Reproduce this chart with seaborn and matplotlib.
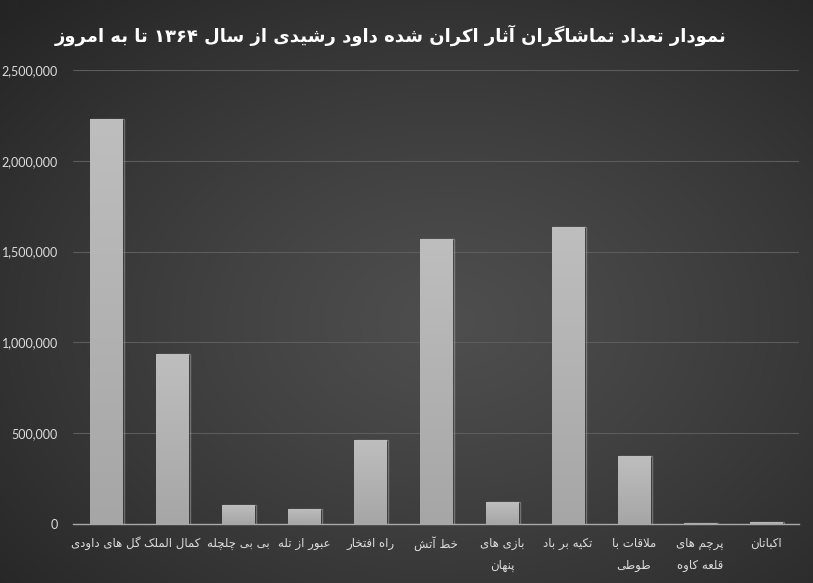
import re
import numpy as np
import matplotlib
matplotlib.use("Agg")
import matplotlib.pyplot as plt
import seaborn as sns
import pandas as pd

# ---------------- data ----------------
categories = ["گل های داودی", "کمال الملک", "بی بی چلچله", "عبور از تله", "راه افتخار",
              "خط آتش", "بازی های\nپنهان", "تکیه بر باد", "ملاقات با\nطوطی",
              "پرچم های\nقلعه کاوه", "اکباتان"]
viewers = [2230000, 936000, 105000, 83000, 463000, 1570000, 121000, 1635000, 374000, 7000, 11000]
y_ticks = [0, 500000, 1000000, 1500000, 2000000, 2500000]
title = "نمودار تعداد تماشاگران آثار اکران شده داود رشیدی از سال ۱۳۶۴ تا به امروز"

# ---------------- simple Arabic/Persian shaping ----------------
_dual = {'ئ': 0xFE89, 'ب': 0xFE8F, 'ت': 0xFE95, 'ث': 0xFE99, 'ج': 0xFE9D, 'ح': 0xFEA1,
         'خ': 0xFEA5, 'س': 0xFEB1, 'ش': 0xFEB5, 'ص': 0xFEB9, 'ض': 0xFEBD, 'ط': 0xFEC1,
         'ظ': 0xFEC5, 'ع': 0xFEC9, 'غ': 0xFECD, 'ف': 0xFED1, 'ق': 0xFED5, 'ك': 0xFED9,
         'ل': 0xFEDD, 'م': 0xFEE1, 'ن': 0xFEE5, 'ه': 0xFEE9, 'ي': 0xFEF1, 'پ': 0xFB56,
         'چ': 0xFB7A, 'ک': 0xFB8E, 'گ': 0xFB92, 'ی': 0xFBFC}
_right = {'آ': 0xFE81, 'أ': 0xFE83, 'ؤ': 0xFE85, 'إ': 0xFE87, 'ا': 0xFE8D, 'ة': 0xFE93,
          'د': 0xFEA9, 'ذ': 0xFEAB, 'ر': 0xFEAD, 'ز': 0xFEAF, 'و': 0xFEED, 'ى': 0xFEEF,
          'ژ': 0xFB8A}


def shape(s):
    res = []
    n = len(s)
    i = 0
    while i < n:
        c = s[i]
        cp = i > 0 and s[i - 1] in _dual
        if c == 'ل' and i + 1 < n and s[i + 1] in ('ا', 'آ'):
            base = 0xFEFB if s[i + 1] == 'ا' else 0xFEF5
            res.append(chr(base + (1 if cp else 0)))
            i += 2
            continue
        if c in _dual or c in _right:
            nxt = s[i + 1] if i + 1 < n else None
            cn = c in _dual and nxt is not None and (nxt in _dual or nxt in _right)
            if c in _dual:
                form = (3 if cn else 1) if cp else (2 if cn else 0)
                res.append(chr(_dual[c] + form))
            else:
                res.append(chr(_right[c] + (1 if cp else 0)))
        else:
            res.append(c)
        i += 1
    return ''.join(res)


def rtl(s):
    lines = []
    for line in s.split('\n'):
        r = shape(line)[::-1]
        r = re.sub(r'[0-9\u06F0-\u06F9\u0660-\u0669]+', lambda m: m.group(0)[::-1], r)
        lines.append(r)
    return '\n'.join(lines)


# ---------------- figure ----------------
sns.set_theme(style="dark")
plt.rcParams['font.family'] = ['DejaVu Sans']

W, H = 813, 583
fig = plt.figure(figsize=(W / 100, H / 100), dpi=100)

# radial gradient background
bg = fig.add_axes([0, 0, 1, 1], zorder=-5)
yy, xx = np.mgrid[0:H, 0:W]
cx, cy = 0.55 * W, 0.55 * H
d = np.sqrt(((xx - cx) / (0.75 * W)) ** 2 + ((yy - cy) / (0.75 * H)) ** 2)
d = np.clip(d, 0, 1)
c0, c1 = 0x4e / 255, 0x25 / 255
val = c0 + (c1 - c0) * d ** 1.2
bg.imshow(np.dstack([val, val, val]), extent=[0, 1, 0, 1], aspect='auto', origin='upper')
bg.set_axis_off()

ax = fig.add_axes([73 / W, (H - 524) / H, (799 - 73) / W, (524 - 70) / H])
ax.set_facecolor('none')

df = pd.DataFrame({"film": [rtl(c) for c in categories], "viewers": viewers})
sns.barplot(data=df, x="film", y="viewers", ax=ax, color="#b0b0b0", width=0.5,
            saturation=1, zorder=3, edgecolor='none')

# vertical gradient on each bar
grad = np.linspace(0, 1, 256).reshape(-1, 1)
top_c, bot_c = np.array([0xbe, 0xbe, 0xbe]) / 255, np.array([0xa6, 0xa6, 0xa6]) / 255
img = top_c + (bot_c - top_c) * grad[..., None]
img = np.repeat(img, 2, axis=1)
for p in list(ax.patches):
    x0, y0 = p.get_x(), p.get_y()
    w, h = p.get_width(), p.get_height()
    if h <= 0:
        continue
    ax.bar(x0 + w / 2 + 0.03, h, width=w, bottom=0, color='#1e1e1e', alpha=0.3, zorder=2)
    im = ax.imshow(img, extent=[x0, x0 + w, y0, y0 + h], aspect='auto', origin='upper', zorder=4)
    im.set_clip_path(p)

ax.set_xlim(-0.5, len(categories) - 0.5)
ax.set_ylim(0, 2500000)
ax.set_yticks(y_ticks)
ax.set_yticklabels([f"{v:,}" for v in y_ticks], fontfamily='Lato', fontsize=9, color='#dcdcdc')
ax.yaxis.grid(True, color='#5c5c5c', linewidth=0.8, zorder=0)
ax.xaxis.grid(False)
ax.tick_params(axis='y', length=0, pad=11)
ax.tick_params(axis='x', length=0, pad=9)
for lab in ax.get_xticklabels():
    lab.set_fontsize(8.5)
    lab.set_color('#dcdcdc')
    lab.set_linespacing(1.9)
    lab.set_verticalalignment('top')
ax.set_xlabel("")
ax.set_ylabel("")
for s in ['top', 'right', 'left']:
    ax.spines[s].set_visible(False)
ax.spines['bottom'].set_visible(True)
ax.spines['bottom'].set_color('#a8a8a8')
ax.spines['bottom'].set_linewidth(1.0)
ax.spines['bottom'].set_zorder(2.5)

fig.text(391 / W, 1 - 35 / H, rtl(title), ha='center', va='center', fontsize=13,
         fontweight='bold', color='white', family=['DejaVu Sans'])

fig.savefig("out.png", dpi=100)
